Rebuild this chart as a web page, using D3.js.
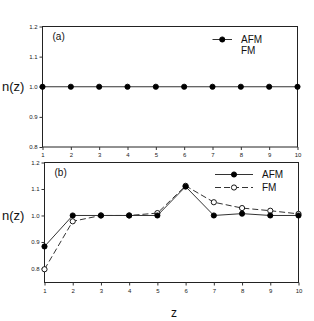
<!DOCTYPE html>
<html>
<head>
<meta charset="utf-8">
<script src="https://cdn.jsdelivr.net/npm/d3@7"></script>
<style>
  body { margin: 0; background: #fff; }
  text { font-family: "Liberation Sans", Arial, sans-serif; }
</style>
</head>
<body>
<script>
var zValues = [1, 2, 3, 4, 5, 6, 7, 8, 9, 10];
var afmA = [1, 1, 1, 1, 1, 1, 1, 1, 1, 1];
var afmB = [0.883, 1.0, 1.0, 1.0, 1.0, 1.109, 1.0, 1.007, 1.0, 1.0];
var fmB = [0.797, 0.978, 1.0, 1.0, 1.009, 1.112, 1.05, 1.028, 1.018, 1.006];
var yTicksA = [0.8, 0.9, 1.0, 1.1, 1.2];
var yTicksB = [0.8, 0.9, 1.0, 1.1, 1.2];
var seriesNames = ["AFM", "FM"];

var width = 314, height = 321;

var svg = d3.select("body").append("svg")
    .attr("width", width)
    .attr("height", height);

function panel(opts) {
  var x = d3.scaleLinear().domain([1, 10]).range([opts.left, opts.right]);
  var y = d3.scaleLinear().domain(opts.yDomain).range([opts.bottom, opts.top]);
  var g = svg.append("g");

  // frame
  g.append("rect")
      .attr("x", opts.left).attr("y", opts.top)
      .attr("width", opts.right - opts.left)
      .attr("height", opts.bottom - opts.top)
      .attr("fill", "none").attr("stroke", "#222").attr("stroke-width", 1);

  var xAxis = g.append("g")
      .attr("transform", "translate(0," + opts.bottom + ")")
      .call(d3.axisBottom(x).tickValues(zValues).tickSize(3).tickPadding(3).tickFormat(d3.format("d")));
  var yAxis = g.append("g")
      .attr("transform", "translate(" + opts.left + ",0)")
      .call(d3.axisLeft(y).tickValues(opts.yTicks).tickSize(3).tickPadding(2).tickFormat(d3.format(".1f")));
  [xAxis, yAxis].forEach(function (a) {
    a.select(".domain").remove();
    a.selectAll("line").attr("stroke", "#333");
    a.selectAll("text").attr("font-size", 6).attr("fill", "#222")
      .attr("font-family", "Liberation Sans, Arial, sans-serif");
  });

  g.append("text").text(opts.label)
      .attr("x", opts.left + 10).attr("y", opts.top + 13)
      .attr("font-size", 10).attr("fill", "#111");

  g.append("text").text("n(z)")
      .attr("x", 2).attr("y", y(1.0) + 4.5)
      .attr("font-size", 13).attr("fill", "#111");

  return { x: x, y: y, g: g };
}

function series(p, values, dash, filled) {
  var line = d3.line()
      .x(function (d, i) { return p.x(zValues[i]); })
      .y(function (d) { return p.y(d); });
  p.g.append("path")
      .datum(values)
      .attr("d", line)
      .attr("fill", "none")
      .attr("stroke", "#333")
      .attr("stroke-width", 1)
      .attr("stroke-dasharray", dash);
  p.g.selectAll(null)
      .data(values)
      .enter().append("circle")
      .attr("cx", function (d, i) { return p.x(zValues[i]); })
      .attr("cy", function (d) { return p.y(d); })
      .attr("r", 2.6)
      .attr("fill", filled ? "#000" : "#fff")
      .attr("stroke", "#000")
      .attr("stroke-width", 0.9);
}

function legendRow(x0, x1, y, dash, filled, name, showSymbol) {
  if (showSymbol) {
    svg.append("line")
        .attr("x1", x0).attr("x2", x1).attr("y1", y).attr("y2", y)
        .attr("stroke", "#333").attr("stroke-width", 1)
        .attr("stroke-dasharray", dash);
    svg.append("circle")
        .attr("cx", (x0 + x1) / 2).attr("cy", y).attr("r", 2.6)
        .attr("fill", filled ? "#000" : "#fff")
        .attr("stroke", "#000").attr("stroke-width", 0.9);
  }
  svg.append("text").text(name)
      .attr("x", x1 + 9).attr("y", y + 3.5)
      .attr("font-size", 10).attr("fill", "#111");
}

// panel (a)
var pa = panel({ left: 42.5, right: 297.5, top: 26.5, bottom: 147, yDomain: [0.8, 1.2], yTicks: yTicksA, label: "(a)" });
series(pa, afmA, null, true);
legendRow(212.5, 232, 39.5, null, true, seriesNames[0], true);
legendRow(212.5, 232, 50, null, false, seriesNames[1], false);

// panel (b)
var pb = panel({ left: 44.5, right: 298.5, top: 162.5, bottom: 282.5, yDomain: [0.747, 1.2], yTicks: yTicksB, label: "(b)" });
series(pb, fmB, "6,3", false);
series(pb, afmB, null, true);
legendRow(215, 253, 174.5, null, true, seriesNames[0], true);
legendRow(215, 253, 187.5, "6,3", false, seriesNames[1], true);

svg.append("text").text("z")
    .attr("x", 174).attr("y", 317)
    .attr("text-anchor", "middle")
    .attr("font-size", 12).attr("fill", "#111");
</script>
</body>
</html>
